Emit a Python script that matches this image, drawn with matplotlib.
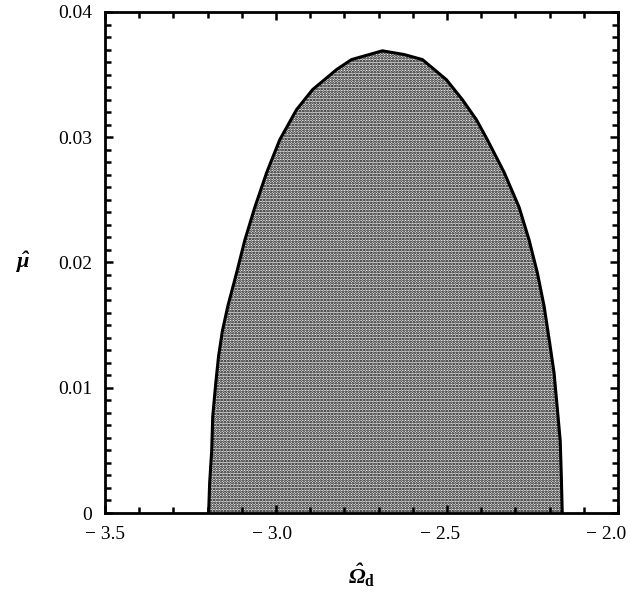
import numpy as np
import matplotlib
matplotlib.use('Agg')
import matplotlib.pyplot as plt
import matplotlib.transforms as mtransforms
from matplotlib.ticker import MultipleLocator, FixedLocator, FixedFormatter

plt.rcParams['font.family'] = 'Liberation Serif'
plt.rcParams['mathtext.fontset'] = 'custom'
plt.rcParams['mathtext.it'] = 'Liberation Serif:italic:bold'
# capital Greek is set in the rm font by mathtext, so make rm italic too
plt.rcParams['mathtext.rm'] = 'Liberation Serif:italic:bold'
plt.rcParams['mathtext.bf'] = 'Liberation Serif:bold'
plt.rcParams['hatch.linewidth'] = 1.3

# boundary of the shaded region: left branch upwards, right branch downwards
omega_left = [-3.197, -3.194, -3.188, -3.185, -3.176, -3.168, -3.157, -3.141,
              -3.115, -3.091, -3.062, -3.027, -2.989, -2.940, -2.893, -2.823,
              -2.779, -2.689]
mu_left = [0.0, 0.0024, 0.0050, 0.0077, 0.0104, 0.0125, 0.0145, 0.0165,
           0.0192, 0.0218, 0.0244, 0.0272, 0.0298, 0.0322, 0.0338, 0.0354,
           0.0362, 0.0369]
omega_right = [-2.625, -2.572, -2.502, -2.455, -2.414, -2.382, -2.333, -2.289, -2.260,
               -2.236, -2.216, -2.201, -2.187, -2.178, -2.169, -2.166, -2.163]
mu_right = [0.0366, 0.0362, 0.0346, 0.0330, 0.0314, 0.0298, 0.0272, 0.0244, 0.0218,
            0.0192, 0.0165, 0.0138, 0.0112, 0.0085, 0.0058, 0.0032, 0.0]

x_ticks = [-3.5, -3.0, -2.5, -2.0]
x_labels = ['\u2212 3.5', '\u2212 3.0', '\u2212 2.5', '\u2212 2.0']
y_ticks = [0, 0.01, 0.02, 0.03, 0.04]
y_labels = ['0', '0.01', '0.02', '0.03', '0.04']

fig = plt.figure(figsize=(6.31, 5.93), dpi=100)
ax = fig.add_axes([0.1664, 0.1349, 0.8130, 0.8449])

xs = np.array(omega_left + omega_right)
ys = np.array(mu_left + mu_right)
ax.fill(xs, ys, facecolor='#f0f0f0', edgecolor='black', hatch='......', linewidth=0)
ax.plot(xs, ys, color='black', linewidth=2.2, solid_joinstyle='round')

ax.set_xlim(-3.5, -2.0)
ax.set_ylim(0, 0.04)
ax.xaxis.set_major_locator(FixedLocator(x_ticks))
ax.xaxis.set_major_formatter(FixedFormatter(x_labels))
ax.yaxis.set_major_locator(FixedLocator(y_ticks))
ax.yaxis.set_major_formatter(FixedFormatter(y_labels))
ax.xaxis.set_minor_locator(MultipleLocator(0.1))
ax.yaxis.set_minor_locator(MultipleLocator(0.001))
ax.tick_params(which='both', direction='in', top=True, right=True, width=1.8)
ax.tick_params(which='major', length=6, labelsize=14, pad=9)
ax.tick_params(which='minor', length=4)
for s in ax.spines.values():
    s.set_linewidth(2)

# nudge x tick labels left like in the original typesetting
shifts = [0, -4, -7, -12]
for lab, dx in zip(ax.get_xticklabels(), shifts):
    lab.set_transform(lab.get_transform() + mtransforms.ScaledTranslation(dx / 100, 0, fig.dpi_scale_trans))

ax.set_xlabel(r'$\hat{\Omega}_{\mathbf{d}}$', fontsize=16, labelpad=14)
ax.set_ylabel(r'$\hat{\mu}$', fontsize=16, rotation=0)
ax.yaxis.set_label_coords(-0.16, 0.475)

fig.savefig('out.png', dpi=100)
